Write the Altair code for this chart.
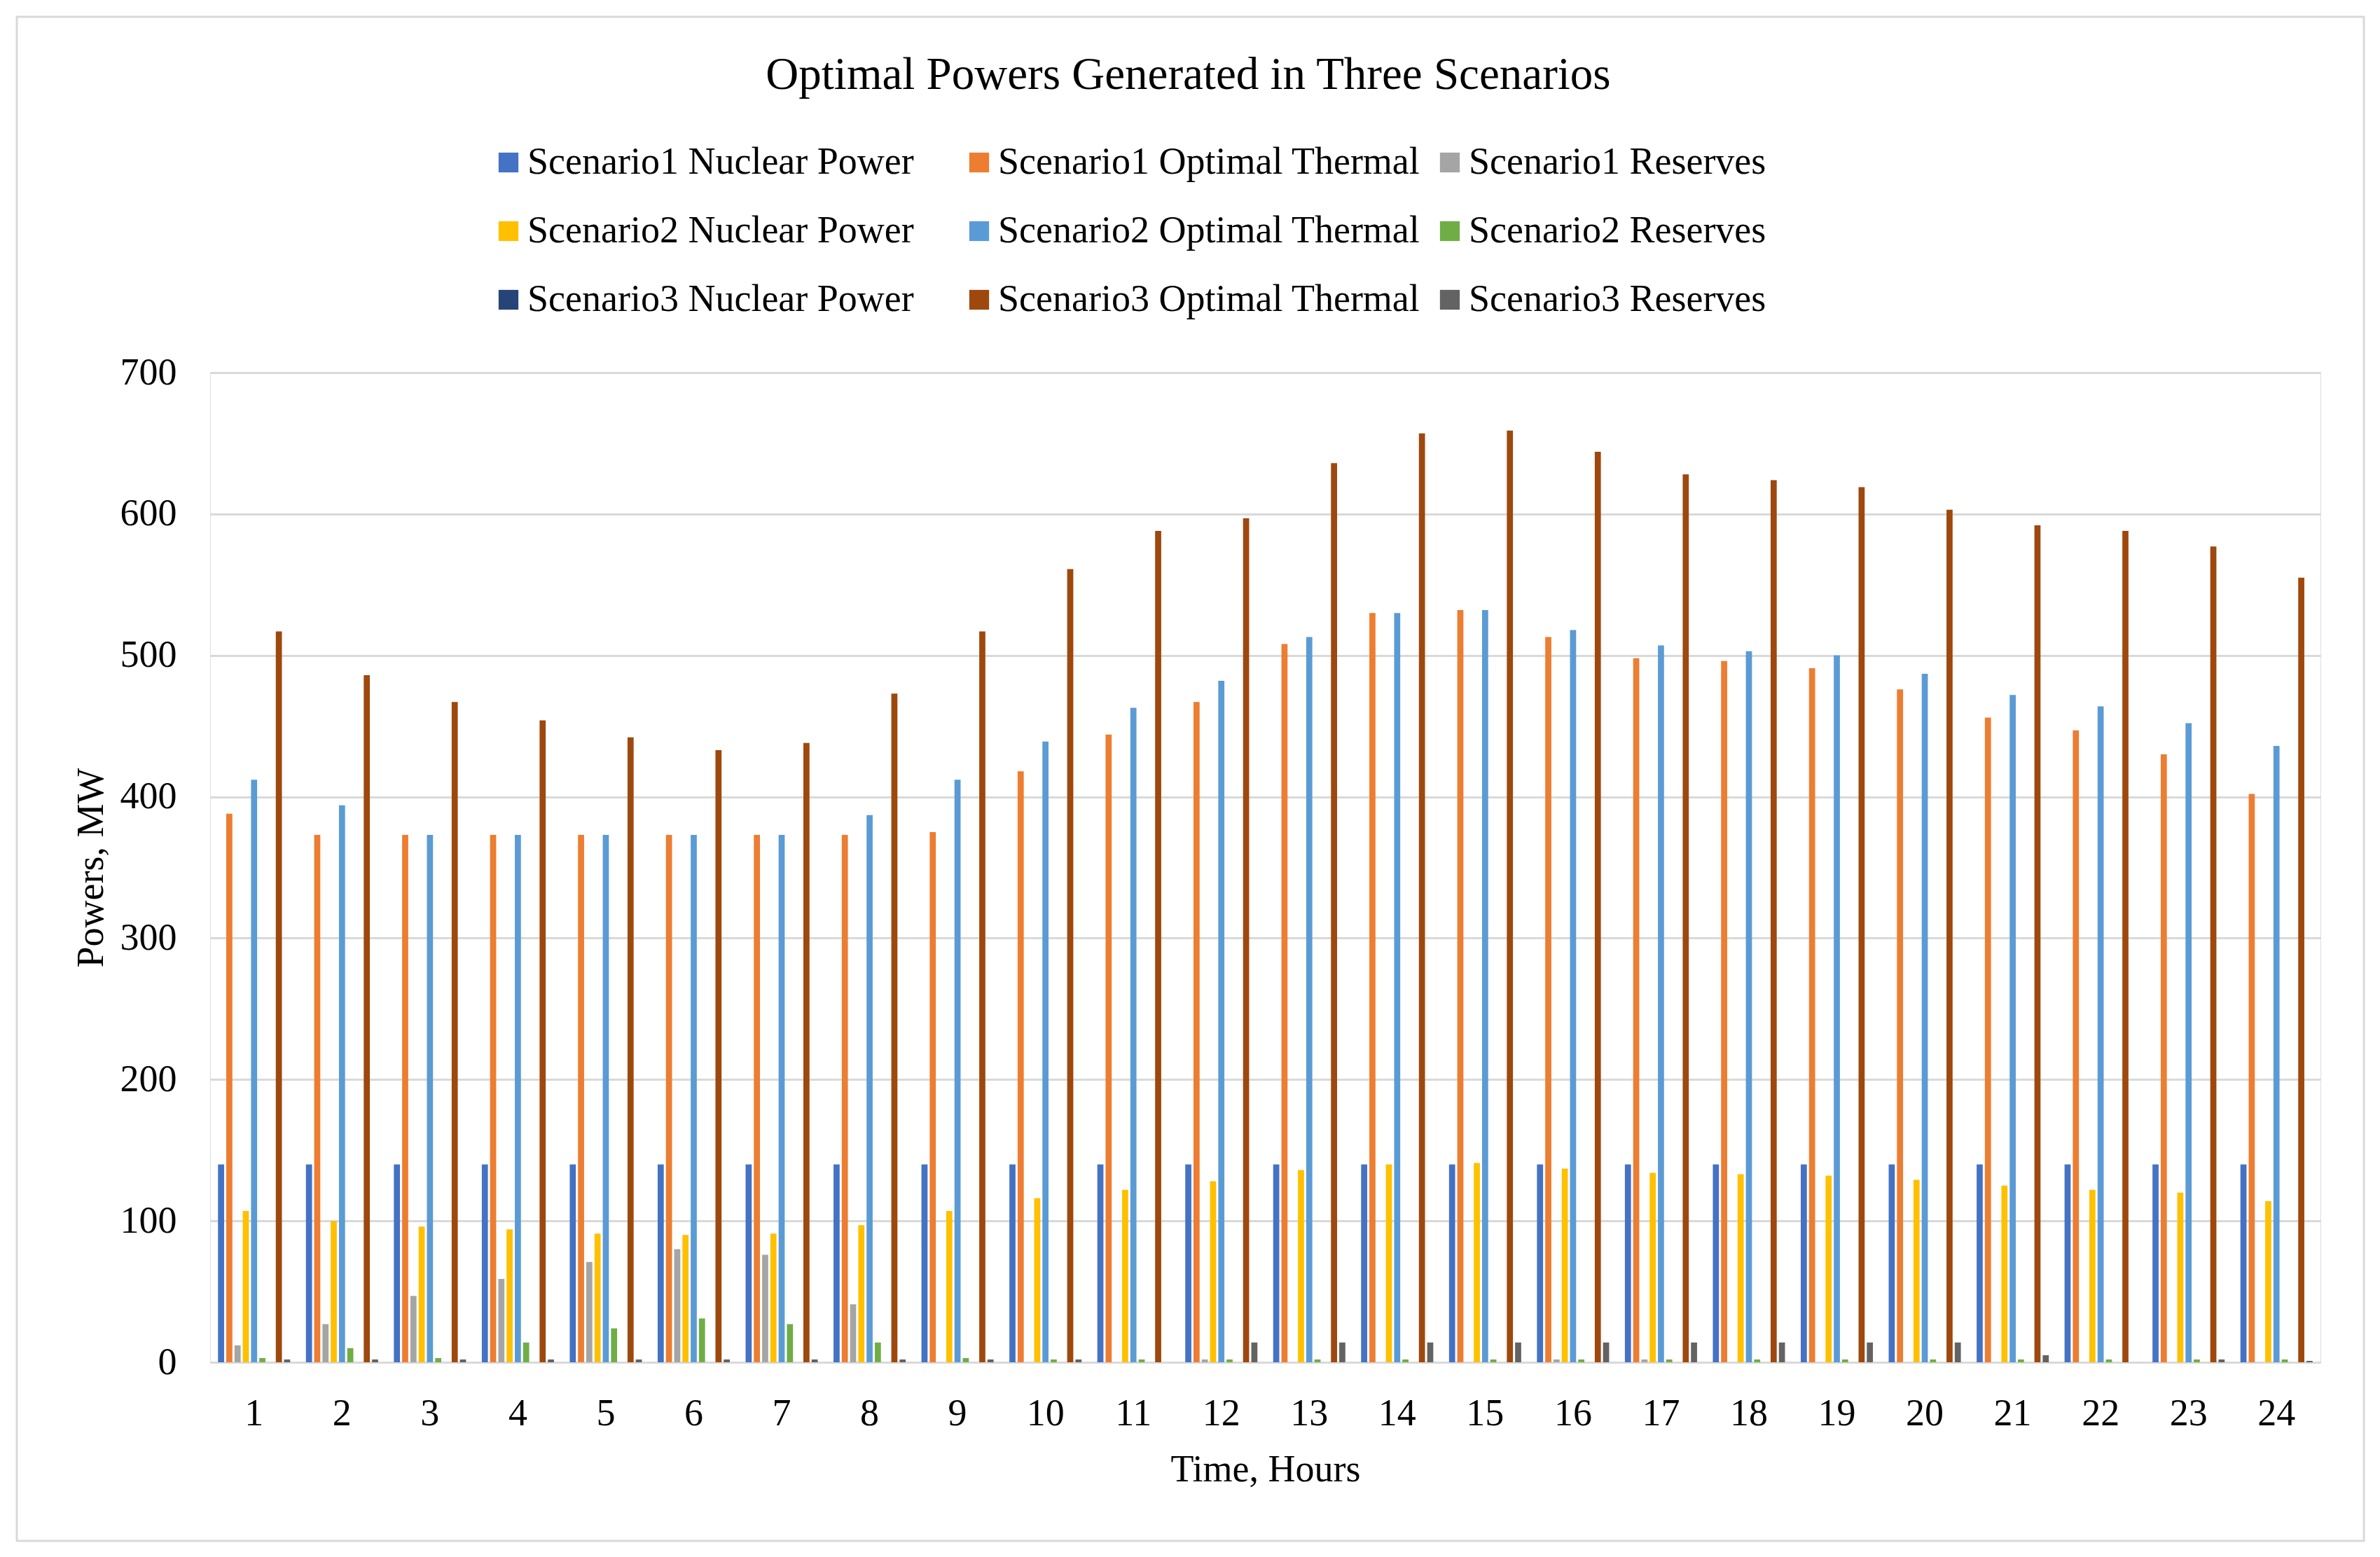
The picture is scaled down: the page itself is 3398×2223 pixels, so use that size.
import altair as alt
import pandas as pd

hours = list(range(1, 25))

series_names = [
    "Scenario1 Nuclear Power", "Scenario1 Optimal Thermal", "Scenario1 Reserves",
    "Scenario2 Nuclear Power", "Scenario2 Optimal Thermal", "Scenario2 Reserves",
    "Scenario3 Nuclear Power", "Scenario3 Optimal Thermal", "Scenario3 Reserves",
]
colors = ["#4472C4", "#ED7D31", "#A5A5A5",
          "#FFC000", "#5B9BD5", "#70AD47",
          "#264478", "#9E480E", "#636363"]

s1_nuclear = [140, 140, 140, 140, 140, 140, 140, 140, 140, 140, 140, 140,
              140, 140, 140, 140, 140, 140, 140, 140, 140, 140, 140, 140]
s1_thermal = [388, 373, 373, 373, 373, 373, 373, 373, 375, 418, 444, 467,
              508, 530, 532, 513, 498, 496, 491, 476, 456, 447, 430, 402]
s1_reserves = [12, 27, 47, 59, 71, 80, 76, 41, 0, 0, 0, 2,
               0, 0, 0, 2, 2, 0, 0, 0, 0, 0, 0, 0]
s2_nuclear = [107, 100, 96, 94, 91, 90, 91, 97, 107, 116, 122, 128,
              136, 140, 141, 137, 134, 133, 132, 129, 125, 122, 120, 114]
s2_thermal = [412, 394, 373, 373, 373, 373, 373, 387, 412, 439, 463, 482,
              513, 530, 532, 518, 507, 503, 500, 487, 472, 464, 452, 436]
s2_reserves = [3, 10, 3, 14, 24, 31, 27, 14, 3, 2, 2, 2,
               2, 2, 2, 2, 2, 2, 2, 2, 2, 2, 2, 2]
s3_nuclear = [0, 0, 0, 0, 0, 0, 0, 0, 0, 0, 0, 0,
              0, 0, 0, 0, 0, 0, 0, 0, 0, 0, 0, 0]
s3_thermal = [517, 486, 467, 454, 442, 433, 438, 473, 517, 561, 588, 597,
              636, 657, 659, 644, 628, 624, 619, 603, 592, 588, 577, 555]
s3_reserves = [2, 2, 2, 2, 2, 2, 2, 2, 2, 2, 0, 14,
               14, 14, 14, 14, 14, 14, 14, 14, 5, 0, 2, 1]

series_values = [s1_nuclear, s1_thermal, s1_reserves,
                 s2_nuclear, s2_thermal, s2_reserves,
                 s3_nuclear, s3_thermal, s3_reserves]

rows = []
for name, vals in zip(series_names, series_values):
    for h, v in zip(hours, vals):
        rows.append({"Hour": h, "Series": name, "Power": v})
df = pd.DataFrame(rows)

FONT = "Liberation Serif"
TXT = "#000000"
GRID = "#d9d9d9"

bars = alt.Chart(df).mark_bar().encode(
    x=alt.X("Hour:O",
            scale=alt.Scale(paddingInner=0.17, paddingOuter=0.085),
            axis=alt.Axis(title="Time, Hours", labelAngle=0, ticks=False,
                          domainColor=GRID, domainWidth=3, grid=False,
                          labelFont=FONT, labelFontSize=54, labelColor=TXT,
                          labelPadding=46, titleFont=FONT, titleFontSize=54,
                          titleFontWeight="normal", titleColor=TXT,
                          titlePadding=26)),
    xOffset=alt.XOffset("Series:N",
                        scale=alt.Scale(domain=series_names, paddingInner=0.26,
                                        paddingOuter=0.05)),
    y=alt.Y("Power:Q",
            scale=alt.Scale(domain=[0, 700], nice=False),
            axis=alt.Axis(title="Powers, MW", values=[0, 100, 200, 300, 400, 500, 600, 700],
                          domain=False, ticks=False, grid=True, gridColor=GRID,
                          gridWidth=3, labelFont=FONT, labelFontSize=54,
                          labelColor=TXT, labelPadding=48, titleFont=FONT,
                          titleFontSize=54, titleFontWeight="normal",
                          titleColor=TXT, titlePadding=14)),
    color=alt.Color("Series:N",
                    scale=alt.Scale(domain=series_names, range=colors),
                    legend=alt.Legend(title=None, orient="none", legendX=399,
                                      legendY=-327, columns=3, direction="horizontal",
                                      gridAlign="all", symbolType="square",
                                      symbolSize=800, symbolStrokeWidth=0,
                                      labelFont=FONT, labelFontSize=54,
                                      labelColor=TXT, labelLimit=1000,
                                      labelOffset=0, rowPadding=44,
                                      columnPadding=15, padding=0)),
)

frame = alt.Chart(pd.DataFrame({"k": [0]})).mark_rect(
    fillOpacity=0, stroke=GRID, strokeWidth=3
).encode(
    x=alt.value(-276), x2=alt.value(3075), y=alt.value(-508), y2=alt.value(1668)
)

chart = alt.layer(frame, bars).properties(
    width=3013,
    height=1413,
    title=alt.TitleParams("Optimal Powers Generated in Three Scenarios",
                          font=FONT, fontSize=65, fontWeight="normal",
                          color=TXT, anchor="middle", dx=-110, dy=122),
    autosize=alt.AutoSizeParams(type="none"),
    padding={"left": 292, "top": 524, "right": 70, "bottom": 265},
).configure_view(stroke=None).configure(background="white")

chart.save("out.html", embed_options={"renderer": "svg", "actions": False})
